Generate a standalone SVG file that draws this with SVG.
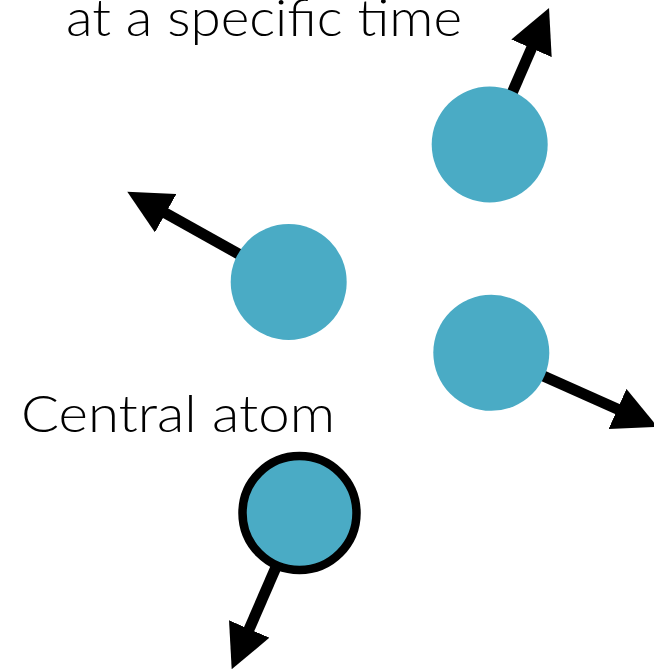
<svg xmlns="http://www.w3.org/2000/svg" width="654" height="672" viewBox="0 0 654 672">
  <style>
    .lbl { font-family: Lato, "Open Sans", "Liberation Sans", sans-serif; font-weight: 300; font-size: 51px; fill: #000; }
    .atom { fill: #4AABC5; }
    .central { fill: #4AABC5; stroke: #000; stroke-width: 8.5; }
    .vel { stroke: #000; stroke-width: 11; fill: none; marker-end: url(#head); }
  </style>
  <defs>
    <marker id="head" markerUnits="userSpaceOnUse" markerWidth="44" markerHeight="44" viewBox="0 0 44 44" refX="1" refY="22" orient="auto">
      <path d="M0,0 L44,22 L0,44 Z" fill="#000"/>
    </marker>
  </defs>
  <rect width="654" height="672" fill="#fff"/>
  <text class="lbl" x="66" y="36" textLength="396" lengthAdjust="spacingAndGlyphs">at a specific time</text>
  <text class="lbl" x="21" y="432" textLength="314" lengthAdjust="spacingAndGlyphs">Central atom</text>
  <g id="connectors">
    <line class="vel" x1="489.7" y1="144.5" x2="531.9" y2="47.4"/>
    <line class="vel" x1="288.7" y1="282" x2="164.8" y2="212.7"/>
    <line class="vel" x1="491.3" y1="352.8" x2="618.4" y2="409.4"/>
    <line class="vel" x1="299.5" y1="513" x2="248.8" y2="629.9"/>
  </g>
  <g id="atom-top-right"><circle class="atom" cx="489.7" cy="144.5" r="58"/></g>
  <g id="atom-middle-left"><circle class="atom" cx="288.7" cy="282" r="58"/></g>
  <g id="atom-right"><circle class="atom" cx="491.3" cy="352.8" r="58"/></g>
  <g id="atom-central"><circle class="central" cx="299.5" cy="513" r="57"/></g>
</svg>
